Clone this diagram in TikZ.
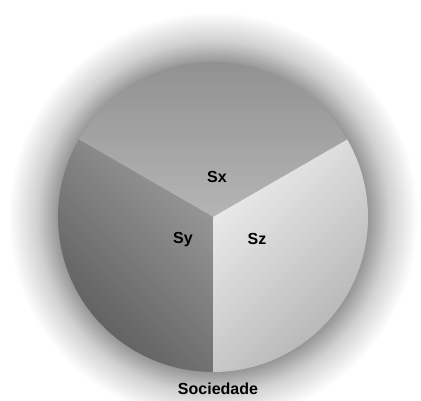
\documentclass[tikz,border=0pt]{standalone}
\usepackage{fontspec}
\setmainfont{Liberation Sans}
\usetikzlibrary{positioning}
\pgfdeclareradialshading{halo}{\pgfpoint{0bp}{0bp}}{color(0bp)=(black!42); color(18.6bp)=(black!42); color(19bp)=(black!40); color(21.5bp)=(black!18); color(25bp)=(white); color(50bp)=(white)}
\tikzstyle{rotulo} = [font=\fontsize{16bp}{19bp}\selectfont\bfseries, text=black, inner sep=0pt]
\tikzstyle{setor} = [draw=none]

\begin{document}
\begin{tikzpicture}[x=1bp, y=1bp]
        \useasboundingbox (0,0) rectangle (421,401);
        \fill[white] (0,0) rectangle (421,401);
        \coordinate (centro) at (213,184);
        
        % Halo
        \shade[shading=halo] (centro) circle (205);
        \fill[black!40] (centro) circle (155);
        
        % Setores
        \shade[setor, top color=black!45, bottom color=black!29] (centro) -- ++(150:155) arc (150:30:155) -- cycle;
        \shade[setor, top color=black!40, bottom color=black!66, shading angle=-45] (centro) -- ++(150:155) arc (150:270:155) -- cycle;
        \shade[setor, top color=black!7, bottom color=black!30, shading angle=45] (centro) -- ++(270:155) arc (270:390:155) -- cycle;
        
        % Rotulos
        \node (sx) [rotulo] at (217,224) {Sx};
        \node (sy) [rotulo] at (183,161) {Sy};
        \node (sz) [rotulo] at (257,162) {Sz};
        \node (soc) [rotulo] at (218,12) {Sociedade};
    \end{tikzpicture}
\end{document}
